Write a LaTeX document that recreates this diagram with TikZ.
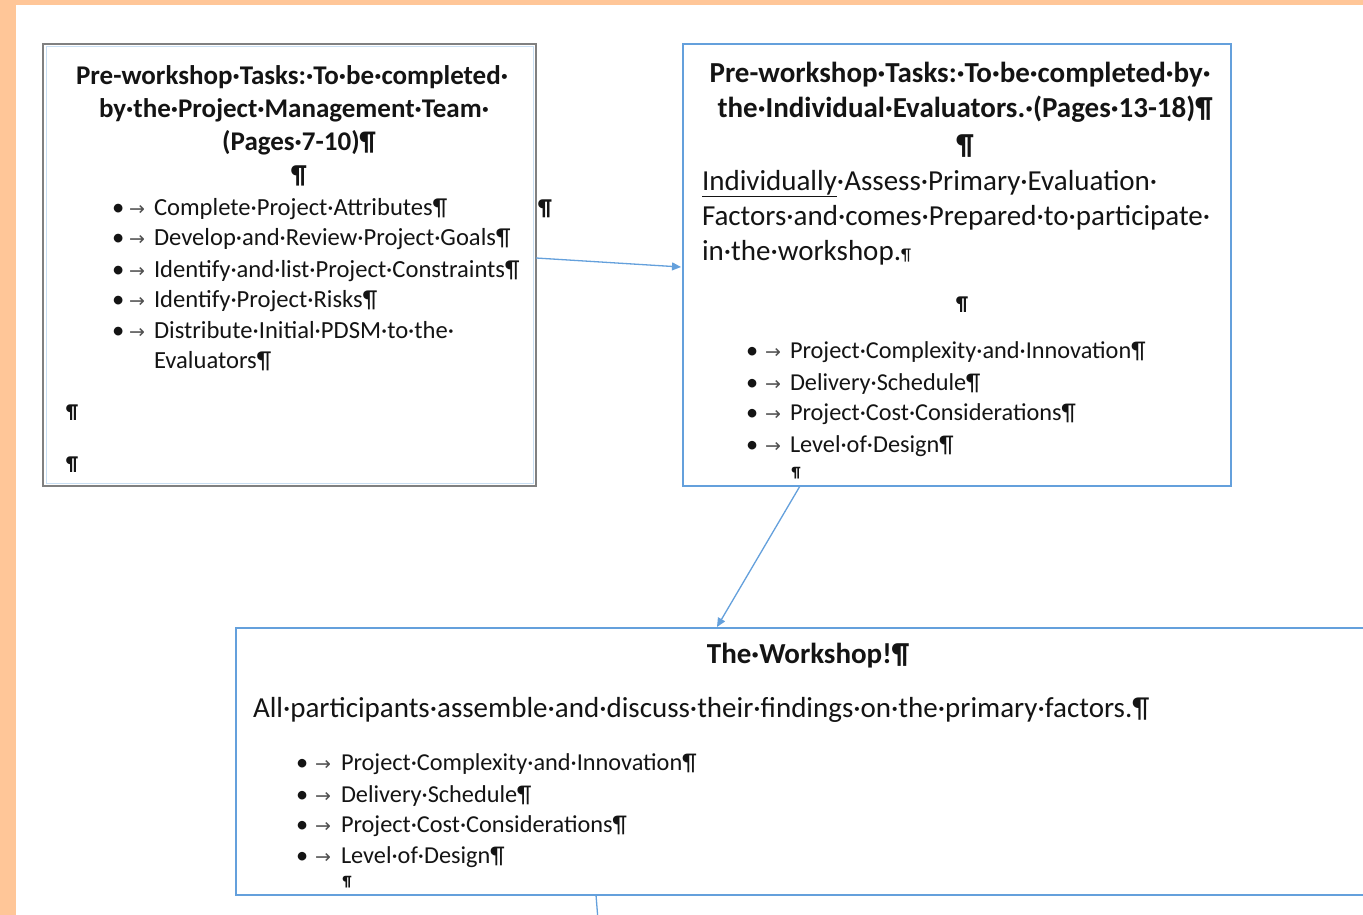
\documentclass[tikz,border=0pt]{standalone}
\usepackage{fontspec}
\setmainfont{Carlito}
\newfontfamily\symfont{DejaVu Sans}
\usetikzlibrary{arrows.meta}

\definecolor{peach}{RGB}{255,198,152}
\definecolor{ink}{RGB}{20,20,20}
\definecolor{boxblue}{RGB}{100,160,220}
\definecolor{boxgray}{RGB}{128,128,128}
\definecolor{paleblue}{RGB}{200,222,242}
\definecolor{tabgray}{RGB}{80,80,80}

% Word-style formatting marks
\newcommand\tabmark{{\symfont\color{tabgray}\fontsize{19}{19}\selectfont →}}
\newcommand\smallpil{{\fontsize{17}{17}\selectfont ¶}}
\newcommand\bulrow[3]{\makebox[#1][l]{•}\makebox[#2][l]{\tabmark}#3}

\begin{document}
\begin{tikzpicture}[x=1pt,y=-1pt,
  every node/.style={inner sep=0pt, outer sep=0pt, text=ink},
  titleL/.style={anchor=base, font=\bfseries\fontsize{27}{31}\selectfont},
  titleR/.style={anchor=base, font=\bfseries\fontsize{29}{34}\selectfont},
  bodytext/.style={anchor=base west, font=\fontsize{29}{34}\selectfont},
  listL/.style={anchor=base west, font=\fontsize{24.6}{29}\selectfont},
  listR/.style={anchor=base west, font=\fontsize{24.3}{29}\selectfont},
  pil/.style={anchor=base, font=\bfseries\fontsize{26}{30}\selectfont},
  conn/.style={draw=boxblue, line width=1.3pt, -{Triangle[length=9pt,width=8pt]}},
  plain/.style={draw=boxblue, line width=1.3pt}
]
\useasboundingbox (0,0) rectangle (1363,915);

% page background with the peach frame
\fill[peach] (0,0) rectangle (1363,915);
\fill[white] (16,5) rectangle (1363,915);

% ---- boxes ----
\node[draw=boxgray, line width=1.4pt, minimum width=493pt, minimum height=442pt,
      anchor=north west] (lbox) at (43,44) {};
\draw[paleblue, line width=1pt] ([shift={(3pt,-3pt)}]lbox.north west)
      rectangle ([shift={(-3pt,3pt)}]lbox.south east);
\node[draw=boxblue, line width=1.6pt, minimum width=548pt, minimum height=442pt,
      anchor=north west] (rbox) at (683,44) {};
\node[draw=boxblue, line width=1.6pt, minimum width=1150pt, minimum height=267pt,
      anchor=north west] (wbox) at (236,628) {};

% ---- left box: project management team ----
\node[titleL] (l1) at (292,85) {Pre-workshop·Tasks:·To·be·completed·};
\node[titleL] (l2) at (294,118) {by·the·Project·Management·Team·};
\node[titleL] (l3) at (299,150) {(Pages·7-10)¶};
\node[pil] (l4) at (299,183) {¶};
\node[listL] (la) at (112,215) {\bulrow{17pt}{25pt}{Complete·Project·Attributes¶}};
\node[listL] (lb) at (112,245) {\bulrow{17pt}{25pt}{Develop·and·Review·Project·Goals¶}};
\node[listL] (lc) at (112,277) {\bulrow{17pt}{25pt}{Identify·and·list·Project·Constraints¶}};
\node[listL] (ld) at (112,307) {\bulrow{17pt}{25pt}{Identify·Project·Risks¶}};
\node[listL] (le) at (112,338) {\bulrow{17pt}{25pt}{Distribute·Initial·PDSM·to·the·}};
\node[listL] (lf) at (154,368) {Evaluators¶};
\node[pil, font=\fontsize{20}{24}\selectfont\bfseries] (lg) at (72,418) {¶};
\node[pil, font=\fontsize{20}{24}\selectfont\bfseries] (lh) at (72,470) {¶};
\node[pil, font=\fontsize{23}{26}\selectfont\bfseries] (stray) at (545,215) {¶};

% ---- right box: individual evaluators ----
\node[titleR] (r1) at (960,83) {Pre-workshop·Tasks:·To·be·completed·by·};
\node[titleR] (r2) at (965,118) {the·Individual·Evaluators.·(Pages·13-18)¶};
\node[pil, font=\bfseries\fontsize{29}{33}\selectfont] (r3) at (965,155) {¶};
\node[bodytext] (r4) at (702,190) {\underline{Individually}·Assess·Primary·Evaluation·};
\node[bodytext] (r5) at (702,225) {Factors·and·comes·Prepared·to·participate·};
\node[bodytext] (r6) at (702,260) {in·the·workshop.\smallpil};
\node[pil, font=\bfseries\fontsize{20}{24}\selectfont] (r7) at (962,310) {¶};
\node[listR] (ra) at (746,358) {\bulrow{19pt}{25pt}{Project·Complexity·and·Innovation¶}};
\node[listR] (rb) at (746,390) {\bulrow{19pt}{25pt}{Delivery·Schedule¶}};
\node[listR] (rc) at (746,420) {\bulrow{19pt}{25pt}{Project·Cost·Considerations¶}};
\node[listR] (rd) at (746,452) {\bulrow{19pt}{25pt}{Level·of·Design¶}};
\node[pil, font=\bfseries\fontsize{15}{17}\selectfont] (re) at (796,477) {¶};

% ---- bottom box: the workshop ----
\node[titleR] (w1) at (808,663) {The·Workshop!¶};
\node[bodytext] (w2) at (253,717) {All·participants·assemble·and·discuss·their·findings·on·the·primary·factors.¶};
\node[listR] (wa) at (296,770) {\bulrow{19pt}{26pt}{Project·Complexity·and·Innovation¶}};
\node[listR] (wb) at (296,802) {\bulrow{19pt}{26pt}{Delivery·Schedule¶}};
\node[listR] (wc) at (296,832) {\bulrow{19pt}{26pt}{Project·Cost·Considerations¶}};
\node[listR] (wd) at (296,863) {\bulrow{19pt}{26pt}{Level·of·Design¶}};
\node[pil, font=\bfseries\fontsize{15}{17}\selectfont] (we) at (347,886) {¶};

% ---- connectors ----
\coordinate (down) at (598,920);
\draw[conn] ([yshift=7pt]lbox.east) -- ([xshift=-2pt,yshift=-2pt]rbox.west);
\draw[conn] ([xshift=-157pt]rbox.south) -- ([xshift=-94pt,yshift=1pt]wbox.north);
\draw[plain] ([xshift=-215pt]wbox.south) -- (down);
\end{tikzpicture}
\end{document}
